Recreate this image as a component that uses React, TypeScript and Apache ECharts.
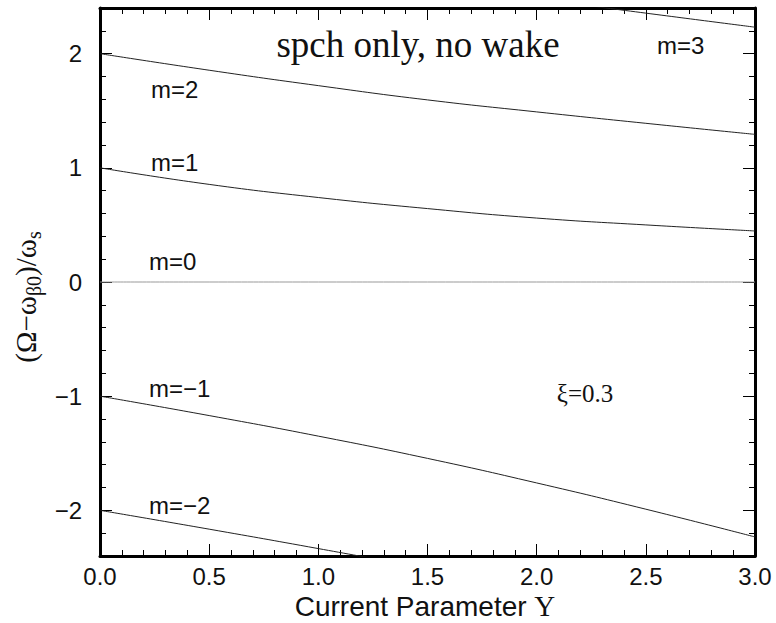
import React, { useEffect, useRef } from "react";
import * as echarts from "echarts";

// Current parameter Y (x values)
const Y_GRID = [0, 0.5, 1, 1.5, 2, 2.5, 3];
const M2 = [2.0, 1.855, 1.72, 1.595, 1.49, 1.39, 1.293];
const M1 = [1.0, 0.855, 0.74, 0.643, 0.56, 0.5, 0.447];
const M0 = [0, 0, 0, 0, 0, 0, 0];
const MM1 = [-1.0, -1.17, -1.35, -1.545, -1.76, -1.99, -2.233];
const MM2_X = [0, 0.5, 1.0, 1.5];
const MM2 = [-2.0, -2.165, -2.335, -2.51];
const M3_X = [2.0, 2.5, 3.0];
const M3 = [2.48, 2.355, 2.232];

const Y_MAJOR = [-2, -1, 0, 1, 2];
const Y_MINOR = [-2.2, -1.8, -1.6, -1.4, -1.2, -0.8, -0.6, -0.4, -0.2, 0.2, 0.4, 0.6, 0.8, 1.2, 1.4, 1.6, 1.8, 2.2];

const LABELS = [
  { text: "m=3", x: 657, y: 45 },
  { text: "m=2", x: 151, y: 89 },
  { text: "m=1", x: 151, y: 162 },
  { text: "m=0", x: 149, y: 261 },
  { text: "m=\u22121", x: 149, y: 388 },
  { text: "m=\u22122", x: 149, y: 505 },
];

const pairs = (xs: number[], ys: number[]) => xs.map((x, i) => [x, ys[i]]);

export default function App() {
  const ref = useRef<HTMLDivElement>(null);
  useEffect(() => {
    if (!ref.current) return;
    const chart = echarts.init(ref.current, undefined, { renderer: "svg" });
    const sans = "Liberation Sans, Arial, sans-serif";
    const serif = "Liberation Serif, Times New Roman, serif";
    const lineColor = "#222";
    const xBase = (pos: "bottom" | "top", labels: boolean) => ({
      type: "value",
      min: 0,
      max: 3,
      interval: 0.5,
      position: pos,
      axisLine: { show: true, onZero: false, lineStyle: { color: "#000", width: 3 } },
      axisTick: { show: true, inside: true, length: 12, lineStyle: { color: "#000", width: 1 } },
      minorTick: { show: true, splitNumber: 5, length: 6, lineStyle: { color: "#000", width: 1 } },
      axisLabel: {
        show: labels,
        fontSize: 24,
        color: "#111",
        margin: 8,
        fontFamily: sans,
        formatter: (v: number) => v.toFixed(1),
      },
      splitLine: { show: false },
      minorSplitLine: { show: false },
    });
    const yBase = (pos: "left" | "right", major: boolean, labels: boolean) => ({
      type: "value",
      min: -2.4,
      max: 2.4,
      position: pos,
      axisLine: { show: major, onZero: false, lineStyle: { color: "#000", width: 3 } },
      axisTick: {
        show: true,
        inside: true,
        length: major ? 12 : 6,
        customValues: major ? Y_MAJOR : Y_MINOR,
        lineStyle: { color: "#000", width: 1 },
      },
      axisLabel: {
        show: labels,
        customValues: Y_MAJOR,
        fontSize: 24,
        color: "#111",
        margin: 18,
        fontFamily: sans,
        formatter: (v: number) => String(v).replace("-", "\u2212"),
      },
      splitLine: { show: false },
    });
    const mkSeries = (name: string, data: number[][], color = lineColor) => ({
      name,
      type: "line",
      xAxisIndex: 0,
      yAxisIndex: 0,
      data,
      smooth: true,
      showSymbol: false,
      symbol: "none",
      clip: true,
      lineStyle: { color, width: 1 },
      silent: true,
    });
    chart.setOption({
      animation: false,
      backgroundColor: "#fff",
      grid: { left: 100, right: 21, top: 8, bottom: 67, containLabel: false, outerBoundsMode: "none" },
      xAxis: [xBase("bottom", true), xBase("top", false)],
      yAxis: [yBase("left", true, true), yBase("right", true, false), yBase("left", false, false), yBase("right", false, false)],
      series: [
        mkSeries("m=3", pairs(M3_X, M3)),
        mkSeries("m=2", pairs(Y_GRID, M2)),
        mkSeries("m=1", pairs(Y_GRID, M1)),
        mkSeries("m=0", pairs(Y_GRID, M0), "#999"),
        mkSeries("m=-1", pairs(Y_GRID, MM1)),
        mkSeries("m=-2", pairs(MM2_X, MM2)),
      ],
      graphic: [
        ...LABELS.map((l) => ({
          type: "text",
          x: l.x,
          y: l.y,
          silent: true,
          style: {
            text: l.text,
            fill: "#111",
            fontSize: 24,
            fontFamily: sans,
            align: "left",
            verticalAlign: "middle",
            textAlign: "left",
            textVerticalAlign: "middle",
          },
        })),
        {
          type: "text",
          x: 418,
          y: 44,
          silent: true,
          style: {
            text: "spch only, no wake",
            fill: "#111",
            fontSize: 37,
            fontFamily: serif,
            align: "center",
            verticalAlign: "middle",
            textAlign: "center",
            textVerticalAlign: "middle",
          },
        },
        {
          type: "text",
          x: 585,
          y: 393,
          silent: true,
          style: {
            text: "\u03BE=0.3",
            fill: "#111",
            fontSize: 25,
            fontFamily: serif,
            align: "center",
            verticalAlign: "middle",
            textAlign: "center",
            textVerticalAlign: "middle",
          },
        },
        {
          type: "text",
          x: 425,
          y: 606,
          silent: true,
          style: {
            text: "{a|Current Parameter }{b|\u03A5}",
            align: "center",
            verticalAlign: "middle",
            textAlign: "center",
            textVerticalAlign: "middle",
            rich: {
              a: { fontSize: 28, fontFamily: sans, fill: "#111", color: "#111" },
              b: { fontSize: 29, fontFamily: serif, fill: "#111", color: "#111" },
            },
          },
        },
        {
          type: "text",
          x: 26,
          y: 297,
          rotation: Math.PI / 2,
          silent: true,
          style: {
            text: "{a|(\u03A9\u2212\u03C9}{s|\u03B20}{a|)/\u03C9}{s|s}",
            align: "center",
            verticalAlign: "middle",
            textAlign: "center",
            textVerticalAlign: "middle",
            rich: {
              a: { fontSize: 29, fontFamily: serif, fill: "#111", color: "#111", lineHeight: 36, verticalAlign: "middle" },
              s: { fontSize: 20, fontFamily: serif, fill: "#111", color: "#111", lineHeight: 20, verticalAlign: "bottom" },
            },
          },
        },
      ],
    });
    return () => chart.dispose();
  }, []);
  return (
    <div
      ref={ref}
      style={{ position: "fixed", left: 0, top: 0, width: 776, height: 623, background: "#fff" }}
    />
  );
}
